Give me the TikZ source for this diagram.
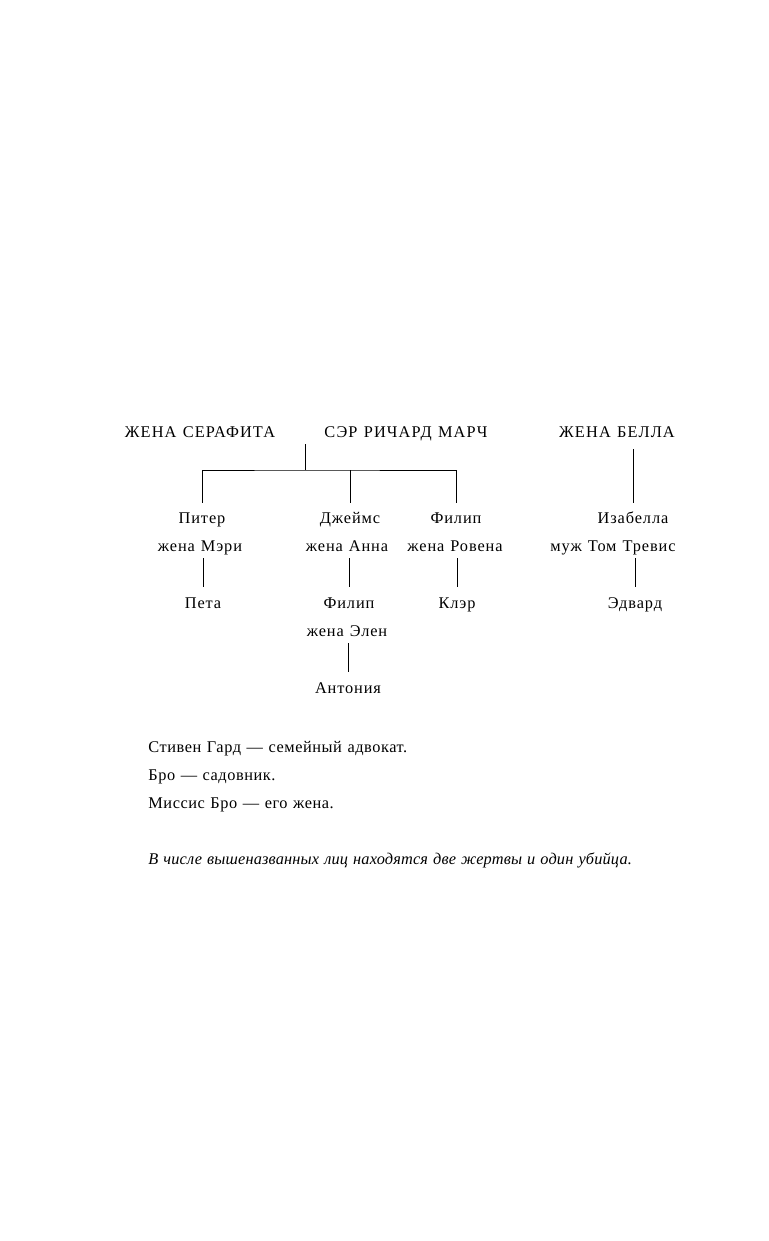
\documentclass[tikz,border=0pt]{standalone}
\usepackage{fontspec}
\setmainfont{Liberation Serif}[WordSpace=1.2]
\usepackage{tikz}

\begin{document}
\begin{tikzpicture}[x=0.75pt, y=-0.75pt, line width=0.6pt,
  font=\fontsize{12.25}{14}\selectfont,
  person/.style={anchor=base, inner sep=0pt, text height=10.5pt, text depth=0pt, outer ysep=5.25pt,
    font=\fontsize{12.25}{14}\selectfont\addfontfeatures{LetterSpace=5.5}},
  head/.style={person, font=\fontsize{12.25}{14}\selectfont\addfontfeatures{LetterSpace=7}},
  noteline/.style={anchor=base west, inner sep=0pt,
    font=\fontsize{12.25}{14}\selectfont\addfontfeatures{LetterSpace=3.4}}]
\useasboundingbox (0,0) rectangle (768,1241);
\node[head] (serafita) at (200,437) {ЖЕНА СЕРАФИТА};
\node[head] (richard) at (406,437) {СЭР РИЧАРД МАРЧ};
\node[head] (bella) at (617,437) {ЖЕНА БЕЛЛА};
\node[person] (peter) at (202,523.5) {Питер};
\node[person] (james) at (350,523.5) {Джеймс};
\node[person] (philip) at (456,523.5) {Филип};
\node[person] (isabella) at (633,523.5) {Изабелла};
\node[person] (mary) at (200,551) {жена Мэри};
\node[person] (anna) at (347,551) {жена Анна};
\node[person] (rowena) at (455,551) {жена Ровена};
\node[person] (tom) at (613,551) {муж Том Тревис};
\node[person] (peta) at (203,608) {Пета};
\node[person] (philipjr) at (349,608) {Филип};
\node[person] (claire) at (457,608) {Клэр};
\node[person] (edward) at (635,608) {Эдвард};
\node[person] (elen) at (347,636) {жена Элен};
\node[person] (antonia) at (348,693) {Антония};
\node[noteline] (gard) at (148,752) {Стивен Гард — семейный адвокат.};
\node[noteline] (bro) at (148,780) {Бро — садовник.};
\node[noteline] (mrsbro) at (148,808) {Миссис Бро — его жена.};
\node[noteline] (victims) at (148,864) {\itshape\addfontfeatures{LetterSpace=1} В числе вышеназванных лиц находятся две жертвы и один убийца.};
\coordinate (bar) at (305,470);
\draw (bar |- richard.south) -- (bar);
\draw (peter.north) |- (bar) -| (philip.north);
\draw (james.north |- bar) -- (james.north);
\draw[shorten <=3.75pt] (isabella.north |- bella.south) -- (isabella.north);
\draw (peta.north |- mary.south) -- (peta.north);
\draw (philipjr.north |- anna.south) -- (philipjr.north);
\draw (claire.north |- rowena.south) -- (claire.north);
\draw (edward.north |- tom.south) -- (edward.north);
\draw (antonia.north |- elen.south) -- (antonia.north);
\end{tikzpicture}
\end{document}
